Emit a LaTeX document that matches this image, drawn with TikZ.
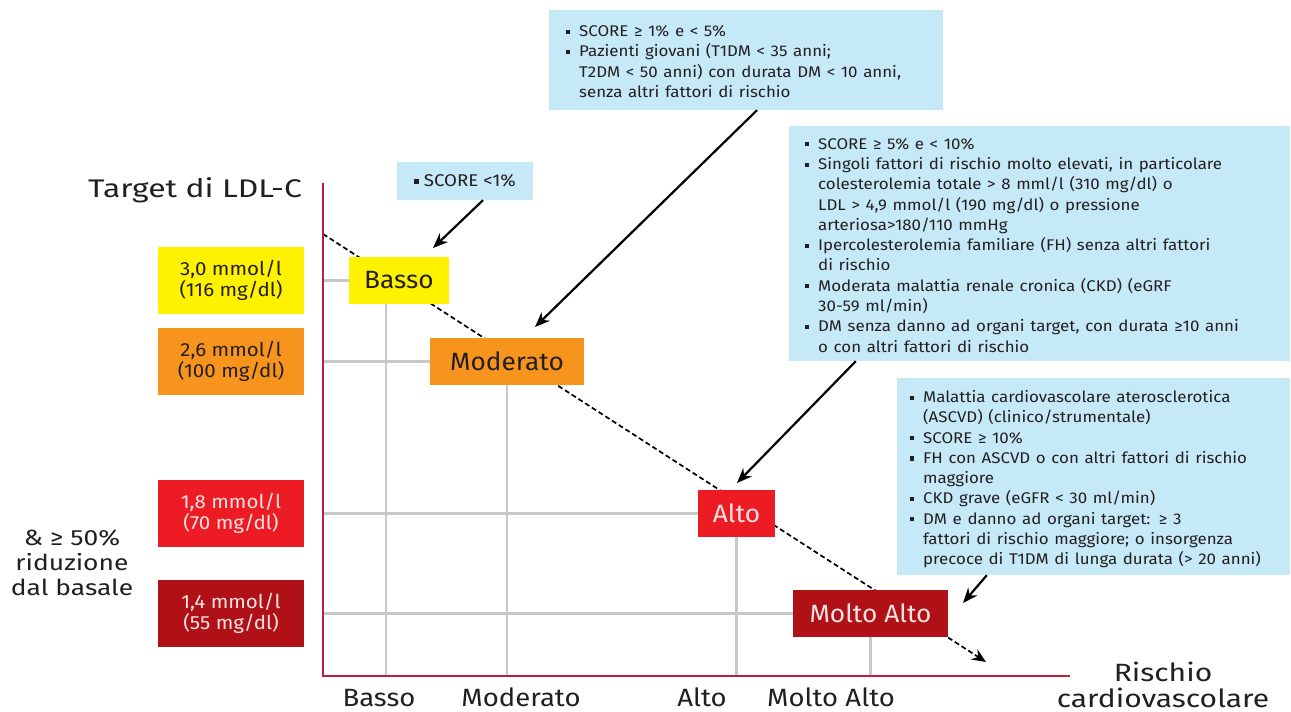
\documentclass[tikz,border=0pt]{standalone}
\usepackage{fontspec}
\usepackage{graphicx}
\setmainfont{Fira Sans}
\usetikzlibrary{arrows.meta,backgrounds}
\definecolor{lblue}{HTML}{C6E9F8}
\definecolor{yel}{HTML}{FFF200}
\definecolor{ora}{HTML}{F7941D}
\definecolor{redA}{HTML}{ED1C24}
\definecolor{redB}{HTML}{B01117}
\definecolor{axred}{HTML}{BE1E3C}
\definecolor{gridc}{HTML}{C8C8C8}
\definecolor{txt}{HTML}{231F20}
\definecolor{ltxt}{HTML}{FBE3E3}
\newcommand{\sq}{\rule[0.18em]{0.26em}{0.26em}}
\newcommand{\hx}{1.09}
\newcommand{\bitem}[1]{\par\lineskip=0pt\noindent\makebox[0.85em][l]{\sq}\scalebox{\hx}[1]{\begin{tabular}[t]{@{}l@{}}#1\end{tabular}}\hfill\par}
\newcommand{\hs}[2]{\scalebox{#1}[1]{#2}}
\begin{document}
\begin{tikzpicture}[x=1pt,y=-1pt,
  base/.style={font=\fontsize{15.5}{20.3}\selectfont, text=txt},
  info/.style={base, fill=lblue, inner ysep=0pt, anchor=center},
  lvl/.style={minimum height=47pt, inner sep=0pt, font=\fontsize{25}{28}\selectfont},
  tgt/.style={minimum width=146pt, minimum height=67pt, inner sep=0pt, align=center, font=\fontsize{19}{21}\selectfont},
  axisl/.style={axred, line width=2.2pt},
  gridl/.style={gridc, line width=2.5pt},
  ptr/.style={-{Stealth[length=15pt,width=12pt]}, line width=2.2pt, black},
  trend/.style={dash pattern=on 5pt off 3pt, line width=1.7pt, -{Stealth[length=14pt,width=12pt]}},
  lab/.style={font=\fontsize{25}{28}\selectfont, text=txt, align=center, inner sep=0pt}
]
\useasboundingbox (0,0) rectangle (1291,712);

% axes coordinates
\coordinate (O) at (323,676);
\coordinate (Ytop) at (323,183);
\coordinate (Xend) at (1070,676);
\coordinate (T0) at (323,234);
\coordinate (T1) at (986,662);

% level boxes
\node[lvl, fill=yel, minimum width=100pt, text=txt] (basso) at (399,280.5) {\hs{1.05}{Basso}};
\node[lvl, fill=ora, minimum width=154pt, text=txt] (mod) at (507,361.5) {\hs{1.05}{Moderato}};
\node[lvl, fill=redA, minimum width=77pt, text=ltxt] (alto) at (736.5,513.5) {\hs{1.05}{Alto}};
\node[lvl, fill=redB, minimum width=155pt, text=ltxt] (molto) at (870.5,613.5) {\hs{1.05}{Molto Alto}};

% target boxes
\node[tgt, fill=yel, text=txt] (t30) at (231,280.5) {\hs{1.08}{3,0 mmol/l}\\\hs{1.08}{(116 mg/dl)}};
\node[tgt, fill=ora, text=txt] (t26) at (231,361.5) {\hs{1.08}{2,6 mmol/l}\\\hs{1.08}{(100 mg/dl)}};
\node[tgt, fill=redA, text=ltxt] (t18) at (231,513.5) {\hs{1.08}{1,8 mmol/l}\\\hs{1.08}{(70 mg/dl)}};
\node[tgt, fill=redB, text=ltxt] (t14) at (231,613.5) {\hs{1.08}{1,4 mmol/l}\\\hs{1.08}{(55 mg/dl)}};

% info boxes
\node[info, minimum width=136pt, minimum height=38pt, inner xsep=0pt, font=\fontsize{17}{20}\selectfont] (small) at (465,181) {\hs{1.1}{\sq\ SCORE <1\%}};
\node[info, text width=360pt, inner xsep=17pt, minimum height=100pt] (top) at (746,60) {%
\bitem{SCORE ≥ 1\% e < 5\%}
\bitem{Pazienti giovani (T1DM < 35 anni;\\ T2DM < 50 anni) con durata DM < 10 anni,\\ senza altri fattori di rischio}};
\node[info, text width=469pt, inner xsep=16pt, minimum height=235pt] (box2) at (1039.5,243.5) {%
\bitem{SCORE ≥ 5\% e < 10\%}
\bitem{Singoli fattori di rischio molto elevati, in particolare\\ colesterolemia totale > 8 mml/l (310 mg/dl) o\\ LDL > 4,9 mmol/l (190 mg/dl) o pressione\\ arteriosa>180/110 mmHg}
\bitem{Ipercolesterolemia familiare (FH) senza altri fattori\\ di rischio}
\bitem{Moderata malattia renale cronica (CKD) (eGRF\\ 30-59 ml/min)}
\bitem{DM senza danno ad organi target, con durata ≥10 anni\\ o con altri fattori di rischio}};
\node[info, text width=367pt, inner xsep=13pt, minimum height=197pt] (box3) at (1093.5,476.5) {%
\bitem{Malattia cardiovascolare aterosclerotica\\ (ASCVD) (clinico/strumentale)}
\bitem{SCORE ≥ 10\%}
\bitem{FH con ASCVD o con altri fattori di rischio\\ maggiore}
\bitem{CKD grave (eGFR < 30 ml/min)}
\bitem{DM e danno ad organi target: ≥ 3\\ fattori di rischio maggiore; o insorgenza\\ precoce di T1DM di lunga durata (> 20 anni)}};

% background: grid and trend
\begin{pgfonlayer}{background}
\fill[white] (0,0) rectangle (1291,712);
\draw[gridl] (O |- basso.west) -- (basso.west);
\draw[gridl] (O |- mod.west) -- (mod.west);
\draw[gridl] (O |- alto.west) -- (alto.west);
\draw[gridl] (O |- molto.west) -- (molto.west);
\draw[gridl] ([xshift=-13pt]basso.south) -- ([xshift=-13pt]basso.south |- O);
\draw[gridl] (mod.south) -- (mod.south |- O);
\draw[gridl] (alto.south) -- (alto.south |- O);
\draw[gridl] (molto.south) -- (molto.south |- O);
\draw[trend] (T0) -- (T1);
\end{pgfonlayer}

% axes
\draw[axisl] (Ytop) -- (O) -- (Xend);

% pointers
\coordinate (p1) at (433,248);
\coordinate (p2) at (535,327);
\coordinate (p3) at (737,483);
\coordinate (p4) at (963,603);
\draw[ptr] ([xshift=18pt]small.south) -- (p1);
\draw[ptr] ([xshift=11pt]top.south) -- (p2);
\draw[ptr] ([xshift=67pt]box2.south west) -- (p3);
\draw[ptr] ([xshift=90pt]box3.south west) -- (p4);

% labels
\node[lab, font=\fontsize{25.5}{30}\selectfont] (ylab) at (195,190) {\hs{1.25}{Target di LDL-C}};
\node[lab, font=\fontsize{22}{25}\selectfont] (red50) at (72,563) {\hs{1.2}{\& ≥ 50\%}\\\hs{1.2}{riduzione}\\\hs{1.2}{dal basale}};
\node[lab, font=\fontsize{25}{26}\selectfont, anchor=south] (xlab) at (1163,708) {\hs{1.2}{Rischio}\\\hs{1.2}{cardiovascolare}};
\node[lab, anchor=base] (xb) at (379,706) {\hs{1.1}{Basso}};
\node[lab, anchor=base] (xm) at (521,706) {\hs{1.1}{Moderato}};
\node[lab, anchor=base] (xa) at (702,706) {\hs{1.1}{Alto}};
\node[lab, anchor=base] (xma) at (831,706) {\hs{1.1}{Molto Alto}};
\end{tikzpicture}
\end{document}
